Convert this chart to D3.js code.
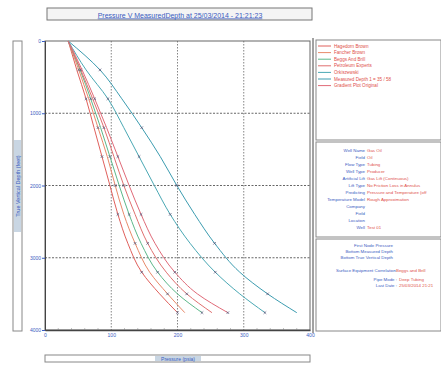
<!DOCTYPE html>
<html>
<head>
<meta charset="utf-8">
<script src="https://cdn.jsdelivr.net/npm/d3@7"></script>
<style>
  body { margin: 0; background: #fff; }
  svg { display: block; font-family: "Liberation Sans", Arial, sans-serif; }
</style>
</head>
<body>
<div id="chart"></div>
<script>
// depth stations (ft) shared by all correlations
const depths = [0, 400, 800, 1200, 1600, 2000, 2400, 2800, 3200, 3500, 3760];

// pressure (psia) per correlation
const hagedorn = [35, 48, 62, 74, 86, 98, 110, 125, 146, 173, 200];
const fancher = [35, 51, 66, 80, 94, 106, 119, 136, 158, 185, 211];
const beggs = [35, 53, 69, 84, 98, 112, 127, 145, 170, 200, 237];
const petex = [35, 54, 72, 89, 104, 119, 136, 155, 183, 214, 252];
const orkiszewski = [35, 62, 95, 119, 142, 165, 189, 219, 257, 294, 332];
const measured = [35, 83, 116, 146, 174, 199, 226, 256, 294, 336, 380];
const original = [35, 56, 75, 93, 110, 127, 145, 166, 196, 230, 276];

const seriesNames = ["Hagedorn Brown", "Fancher Brown", "Beggs And Brill", "Petroleum Experts",
  "Orkiszewski", "Measured Depth 1 = 35 / 58", "Gradient Plot Original"];
const seriesValues = [hagedorn, fancher, beggs, petex, orkiszewski, measured, original];
const seriesColors = ["#e0605c", "#e88a6a", "#5cb88a", "#e07070", "#4aa8b4", "#3c9cb0", "#e06a78"];

const xTicks = [0, 100, 200, 300, 400];
const yTicks = [0, 1000, 2000, 3000, 4000];

const infoKeys = ["Well Name", "Field", "Flow Type", "Well Type", "Artificial Lift", "Lift Type",
  "Predicting", "Temperature Model", "Company", "Field", "Location", "Well"];
const infoValues = ["Gas Oil", "Oil", "Tubing", "Producer", "Gas Lift (Continuous)", "No Friction Loss in Annulus",
  "Pressure and Temperature (off", "Rough Approximation", "", "", "", "Test 01"];

const nodeKeys = ["First Node Pressure", "Bottom Measured Depth", "Bottom True Vertical Depth"];
const surfaceLine = ["Surface Equipment Correlation", "Beggs and Brill"];
const pipeLines = [["Pipe Mode", "Deep Tubing"], ["Last Date", "25/03/2014 21:21"]];

const W = 441, H = 368;
const margin = {left: 45, right: 131, top: 41, bottom: 38};
const blue = "#3a5bbf", red = "#e0504a";

const svg = d3.select("#chart").append("svg")
  .attr("width", W).attr("height", H);

const x = d3.scaleLinear().domain([0, 400]).range([margin.left, W - margin.right]);
const y = d3.scaleLinear().domain([0, 4000]).range([margin.top, H - margin.bottom]);

// title box
svg.append("rect").attr("x", 47).attr("y", 8).attr("width", 265).attr("height", 12)
  .attr("fill", "#f4f4f4").attr("stroke", "#777").attr("stroke-width", 1);
svg.append("text").attr("x", 180).attr("y", 17.5).attr("text-anchor", "middle")
  .attr("font-size", 7).attr("fill", blue).attr("text-decoration", "underline")
  .text("Pressure V MeasuredDepth at 25/03/2014 - 21:21:23");

// y label box
svg.append("rect").attr("x", 13).attr("y", 41).attr("width", 9).attr("height", 290)
  .attr("fill", "#fff").attr("stroke", "#888");
svg.append("rect").attr("x", 14).attr("y", 140).attr("width", 7).attr("height", 92)
  .attr("fill", "#c9d6e3");
svg.append("text").attr("transform", "translate(19.5,186) rotate(-90)")
  .attr("text-anchor", "middle").attr("font-size", 5.5).attr("fill", blue)
  .text("True Vertical Depth (feet)");

// x label box
svg.append("rect").attr("x", 45).attr("y", 355).attr("width", 265).attr("height", 7)
  .attr("fill", "#fff").attr("stroke", "#888");
svg.append("rect").attr("x", 155).attr("y", 356).attr("width", 46).attr("height", 5)
  .attr("fill", "#c9d6e3");
svg.append("text").attr("x", 178).attr("y", 360.5).attr("text-anchor", "middle")
  .attr("font-size", 5).attr("fill", blue).text("Pressure (psia)");

// plot frame
svg.append("rect").attr("x", x(0)).attr("y", y(0))
  .attr("width", x(400) - x(0)).attr("height", y(4000) - y(0))
  .attr("fill", "#fff").attr("stroke", "#666").attr("stroke-width", 1);

// minor tick marks along the bottom
const minorX = d3.range(0, 401, 20);
svg.append("g").selectAll("line").data(minorX.filter(v => v % 100)).join("line")
  .attr("x1", d => x(d)).attr("x2", d => x(d)).attr("y1", y(4000) - 2).attr("y2", y(4000))
  .attr("stroke", "#999").attr("stroke-width", 0.6);

// major grid
svg.append("g").selectAll("line").data(xTicks.slice(1, -1)).join("line")
  .attr("x1", d => x(d)).attr("x2", d => x(d)).attr("y1", y(0)).attr("y2", y(4000))
  .attr("stroke", "#666").attr("stroke-width", 0.8).attr("stroke-dasharray", "1.5,1.5");
svg.append("g").selectAll("line").data(yTicks.slice(1, -1)).join("line")
  .attr("x1", x(0)).attr("x2", x(400)).attr("y1", d => y(d)).attr("y2", d => y(d))
  .attr("stroke", "#555").attr("stroke-width", 0.9).attr("stroke-dasharray", "2,1.5");

// axes
const xAxis = d3.axisBottom(x).tickValues(xTicks).tickSize(0).tickPadding(3);
svg.append("g").attr("transform", `translate(0,${y(4000)})`).call(xAxis)
  .call(g => g.select(".domain").attr("stroke", "#444").attr("stroke-width", 1.5))
  .call(g => g.selectAll("text").attr("font-size", 5).attr("fill", blue));
const yAxis = d3.axisLeft(y).tickValues(yTicks).tickFormat(d3.format("d")).tickSize(3).tickPadding(1);
svg.append("g").attr("transform", `translate(${x(0)},0)`).call(yAxis)
  .call(g => g.select(".domain").attr("stroke", "#444").attr("stroke-width", 1))
  .call(g => g.selectAll(".tick line").attr("stroke", blue))
  .call(g => g.selectAll("text").attr("font-size", 5).attr("fill", blue));

// curves with sparse cross markers
const line = d3.line().x(d => x(d[1])).y(d => y(d[0])).curve(d3.curveMonotoneY);
seriesValues.forEach((vals, s) => {
  const pts = depths.map((d, i) => [d, vals[i]]);
  svg.append("path").attr("d", line(pts)).attr("fill", "none")
    .attr("stroke", seriesColors[s]).attr("stroke-width", 1);
  svg.append("g").selectAll("path").data(pts.filter((_, i) => i > 0 && (i + s) % 2 === 0)).join("path")
    .attr("d", d => `M${x(d[1]) - 1.3},${y(d[0]) - 1.3}l2.6,2.6M${x(d[1]) + 1.3},${y(d[0]) - 1.3}l-2.6,2.6`)
    .attr("stroke", "#557").attr("stroke-width", 0.7);
});

// right-hand panels
const px = 313;
svg.append("line").attr("x1", px).attr("x2", px).attr("y1", 38).attr("y2", 333)
  .attr("stroke", "#444").attr("stroke-width", 1);
svg.append("rect").attr("x", px + 3).attr("y", 40).attr("width", W - px - 3).attr("height", 100)
  .attr("fill", "#fff").attr("stroke", "#888");
svg.append("rect").attr("x", px + 3).attr("y", 142).attr("width", W - px - 3).attr("height", 95)
  .attr("fill", "#fff").attr("stroke", "#888");
svg.append("rect").attr("x", px + 3).attr("y", 239).attr("width", W - px - 3).attr("height", 92)
  .attr("fill", "#fff").attr("stroke", "#888");

// legend
const leg = svg.append("g").attr("font-size", 4.6);
seriesNames.forEach((n, i) => {
  const ly = 46 + i * 6.6;
  leg.append("line").attr("x1", px + 5).attr("x2", px + 18).attr("y1", ly).attr("y2", ly)
    .attr("stroke", seriesColors[i]).attr("stroke-width", 1);
  leg.append("text").attr("x", px + 21).attr("y", ly + 1.6).attr("fill", red).text(n);
});

// well info table
const info = svg.append("g").attr("font-size", 4.4);
infoKeys.forEach((k, i) => {
  const ly = 152 + i * 7;
  info.append("text").attr("x", 365).attr("y", ly).attr("text-anchor", "end")
    .attr("fill", blue).text(k);
  info.append("text").attr("x", 367).attr("y", ly).attr("fill", red).text(infoValues[i]);
});

// node info
const node = svg.append("g").attr("font-size", 4.4);
nodeKeys.forEach((k, i) => {
  node.append("text").attr("x", 393).attr("y", 247 + i * 6).attr("text-anchor", "end")
    .attr("fill", blue).text(k);
});
node.append("text").attr("x", 396).attr("y", 272).attr("text-anchor", "end")
  .attr("fill", blue).text(surfaceLine[0] + " ");
node.append("text").attr("x", 396).attr("y", 272).attr("fill", red).text(surfaceLine[1]);
pipeLines.forEach((p, i) => {
  node.append("text").attr("x", 397).attr("y", 281 + i * 6).attr("text-anchor", "end")
    .attr("fill", blue).text(p[0] + " :");
  node.append("text").attr("x", 399).attr("y", 281 + i * 6).attr("fill", red).text(p[1]);
});
</script>
</body>
</html>
